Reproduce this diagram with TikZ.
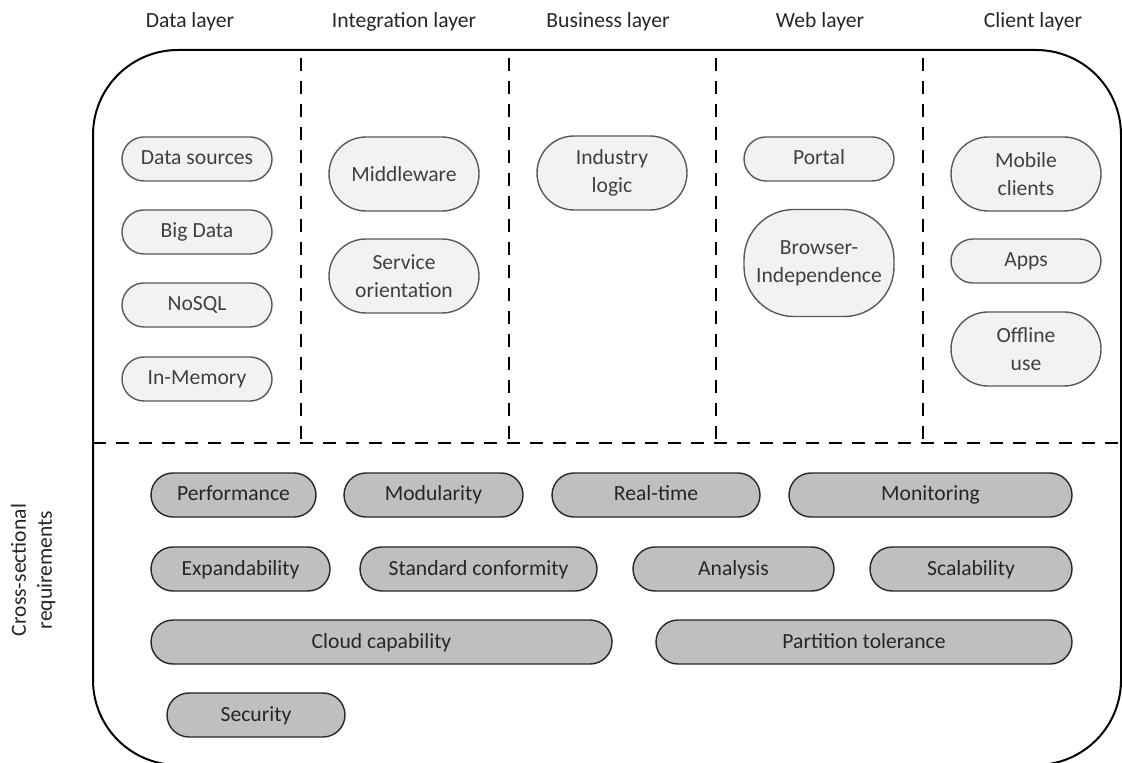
\documentclass[tikz,border=0pt]{standalone}
\usepackage{fontspec}
\setmainfont{Carlito}
\usepackage{xcolor}
\usetikzlibrary{arrows.meta}

\definecolor{boxfill}{HTML}{F2F2F2}
\definecolor{boxline}{HTML}{595959}
\definecolor{reqfill}{HTML}{BFBFBF}
\definecolor{reqline}{HTML}{262626}
\definecolor{labeltext}{HTML}{262626}

\tikzset{
  oneline/.style={text height=8pt, text depth=2pt},
  basebox/.style={draw=boxline, fill=boxfill, line width=0.7pt, rounded corners=11pt,
    minimum width=75pt, minimum height=22pt, inner sep=0pt, align=center, text=black!75},
  layerbox/.style={basebox, oneline},
  tallbox/.style={basebox, minimum height=37pt, rounded corners=18.5pt},
  reqbox/.style={draw=reqline, fill=reqfill, line width=0.7pt, rounded corners=11pt,
    minimum height=22pt, inner sep=0pt, text=reqline, oneline},
  heading/.style={text=labeltext},
  divider/.style={line width=0.9pt, dash pattern=on 6.5pt off 5pt},
}

\begin{document}
\begin{tikzpicture}[x=0.5pt, y=-0.5pt, font=\fontsize{10.8}{14}\selectfont]
  \useasboundingbox (0,0) rectangle (1122,763);

  % Layer headings
  \node[heading, oneline] (hdata)  at (190,22)  {Data layer};
  \node[heading, oneline] (hint)   at (404,22)  {Integration layer};
  \node[heading, oneline] (hbus)   at (608,22)  {Business layer};
  \node[heading, oneline] (hweb)   at (820,22)  {Web layer};
  \node[heading, oneline] (hcli)   at (1033,22) {Client layer};
  \node[heading, rotate=90, align=center, font=\fontsize{10.8}{13}\selectfont] (hcross) at (33,570)
    {Cross-sectional\\requirements};

  % Frame and dividers
  \draw[line width=1pt, rounded corners=42.5pt] (93,50) rectangle (1121,765);
  \foreach \xx in {301,509,716,923}
    \draw[divider] (\xx,58) -- (\xx,443);
  \draw[divider] (93,443) -- (1121,443);

  % Data layer
  \node[layerbox] (src)   at (197,159) {Data sources};
  \node[layerbox] (big)   at (197,232) {Big Data};
  \node[layerbox] (nosql) at (197,305) {NoSQL};
  \node[layerbox] (mem)   at (197,379) {In-Memory};

  % Integration layer
  \node[tallbox] (mid) at (404,174) {Middleware};
  \node[tallbox] (soa) at (404,276) {Service\\orientation};

  % Business layer
  \node[tallbox] (logic) at (612,173) {Industry\\logic};

  % Web layer
  \node[layerbox] (portal) at (819,159) {Portal};
  \node[basebox, minimum height=53.5pt, rounded corners=25pt] (browser) at (819,263)
    {Browser-\\Independence};

  % Client layer
  \node[tallbox] (mobile)  at (1026,174) {Mobile\\clients};
  \node[layerbox] (apps)   at (1026,261) {Apps};
  \node[tallbox] (offline) at (1026,349) {Offline\\use};

  % Cross-sectional requirements
  \node[reqbox, minimum width=82.5pt]  (perf)  at (233.5,495) {Performance};
  \node[reqbox, minimum width=89.5pt]  (modul) at (433.5,495) {Modularity};
  \node[reqbox, minimum width=104pt]   (rt)    at (656,495)   {Real-time};
  \node[reqbox, minimum width=141.5pt] (mon)   at (930.5,495) {Monitoring};

  \node[reqbox, minimum width=89.5pt]  (expand) at (240.5,569) {Expandability};
  \node[reqbox, minimum width=118.5pt] (std)    at (478.5,569) {Standard conformity};
  \node[reqbox, minimum width=100.5pt] (ana)    at (733.5,569) {Analysis};
  \node[reqbox, minimum width=101pt]   (scale)  at (971,569)   {Scalability};

  \node[reqbox, minimum width=230.5pt] (cloud) at (381.5,642) {Cloud capability};
  \node[reqbox, minimum width=208pt]   (part)  at (864,642)   {Partition tolerance};

  \node[reqbox, minimum width=89pt] (sec) at (256,715) {Security};
\end{tikzpicture}
\end{document}
